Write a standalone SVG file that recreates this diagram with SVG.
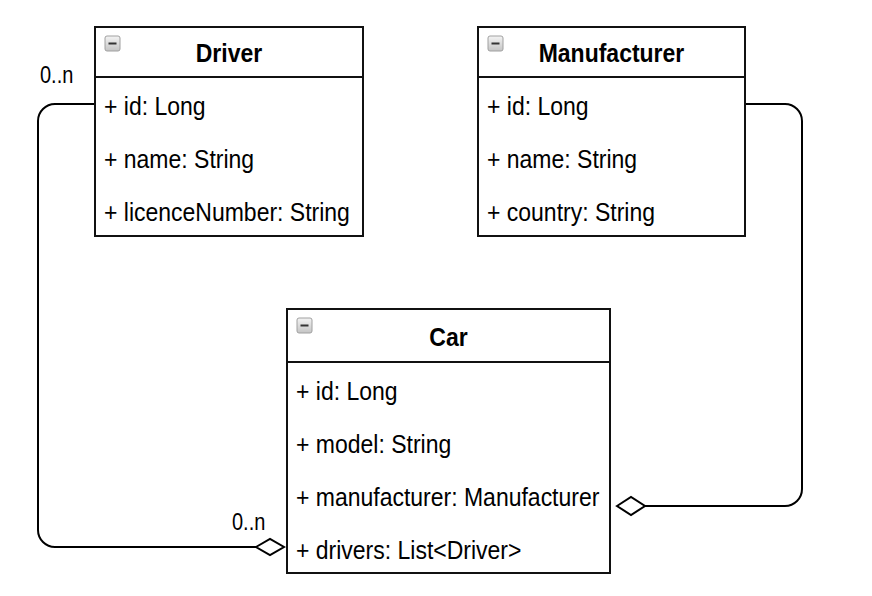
<svg xmlns="http://www.w3.org/2000/svg" width="872" height="596" viewBox="0 0 872 596">
<style>
.box{fill:#fff;stroke:#111;stroke-width:2}
.div{stroke:#111;stroke-width:2}
text{transform-box:fill-box;transform-origin:center;transform:scaleY(1.15)}
.title{font-family:"Liberation Sans",Arial,sans-serif;font-weight:bold;font-size:23px;fill:#000;text-anchor:middle}
.attr{font-family:"Liberation Sans",Arial,sans-serif;font-size:23px;fill:#000}
.lbl{font-family:"Liberation Sans",Arial,sans-serif;font-size:20px;fill:#000}
.conn{fill:none;stroke:#000;stroke-width:2}
.dia{fill:#fff;stroke:#000;stroke-width:2}
.ico{fill:url(#g);stroke:#a0a0a0;stroke-width:1}
.icol{stroke:#333;stroke-width:2}
</style>
<defs>
<linearGradient id="g" x1="0" y1="0" x2="0" y2="1">
<stop offset="0" stop-color="#f4f4f4"/>
<stop offset="1" stop-color="#c4c4c4"/>
</linearGradient>
</defs>
<rect width="872" height="596" fill="#fff"/>
<g id="connectors">
<path class="conn" d="M95,104 H55 A17,17 0 0 0 38,121 V530 A17,17 0 0 0 55,547 H256"/>
<polygon class="dia" points="256,547 270,539 284,547 270,555"/>
<path class="conn" d="M745,104 H785 A17,17 0 0 1 802,121 V489 A17,17 0 0 1 785,506 H645"/>
<polygon class="dia" points="617,506 631,497 645,506 631,515"/>
<text class="lbl" x="40" y="82">0..n</text>
<text class="lbl" x="232" y="529">0..n</text>
</g>
<g id="driver">
<rect class="box" x="95" y="27" width="268" height="209"/>
<line class="div" x1="95" y1="77" x2="363" y2="77"/>
<rect class="ico" x="105" y="36" width="15" height="15" rx="2"/>
<line class="icol" x1="108.5" y1="43.5" x2="116.5" y2="43.5"/>
<text class="title" x="229" y="61">Driver</text>
<text class="attr" x="104" y="114">+ id: Long</text>
<text class="attr" x="104" y="167">+ name: String</text>
<text class="attr" x="104" y="220">+ licenceNumber: String</text>
</g>
<g id="manufacturer">
<rect class="box" x="478" y="27" width="267" height="209"/>
<line class="div" x1="478" y1="77" x2="745" y2="77"/>
<rect class="ico" x="488" y="36" width="15" height="15" rx="2"/>
<line class="icol" x1="491.5" y1="43.5" x2="499.5" y2="43.5"/>
<text class="title" x="611.5" y="61">Manufacturer</text>
<text class="attr" x="487" y="114">+ id: Long</text>
<text class="attr" x="487" y="167">+ name: String</text>
<text class="attr" x="487" y="220">+ country: String</text>
</g>
<g id="car">
<rect class="box" x="287" y="309" width="323" height="264"/>
<line class="div" x1="287" y1="362" x2="610" y2="362"/>
<rect class="ico" x="297" y="318" width="15" height="15" rx="2"/>
<line class="icol" x1="300.5" y1="325.5" x2="308.5" y2="325.5"/>
<text class="title" x="448.5" y="345">Car</text>
<text class="attr" x="296" y="399">+ id: Long</text>
<text class="attr" x="296" y="452">+ model: String</text>
<text class="attr" x="296" y="505">+ manufacturer: Manufacturer</text>
<text class="attr" x="296" y="558">+ drivers: List&lt;Driver&gt;</text>
</g>
</svg>
